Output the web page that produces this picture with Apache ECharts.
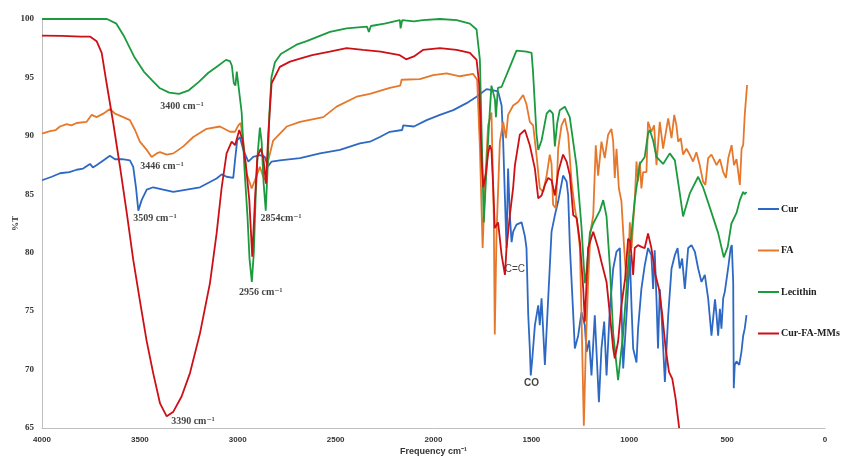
<!DOCTYPE html>
<html>
<head>
<meta charset="utf-8">
<script src="https://cdn.jsdelivr.net/npm/echarts@6/dist/echarts.min.js"></script>
<style>
html,body{margin:0;padding:0;background:#fff;}
#c{width:853px;height:457px;}
</style>
</head>
<body>
<div id="c"></div>
<script>
// ---- Data (wavenumber cm-1, %T) ----
const seriesNames = ['Cur', 'FA', 'Lecithin', 'Cur-FA-MMs'];
const xTicks = [4000, 3500, 3000, 2500, 2000, 1500, 1000, 500, 0];
const yTicks = [65, 70, 75, 80, 85, 90, 95, 100];

const curData = [[4000,86.2],[3950,86.5],[3908,86.8],[3860,86.9],[3823,87.1],[3790,87.2],[3755,87.6],[3740,87.3],[3720,87.5],[3687,87.9],[3653,88.3],[3627,88.0],[3590,88.0],[3551,87.9],[3534,87.35],[3520,85.6],[3508,83.6],[3491,84.5],[3465,85.4],[3432,85.6],[3381,85.4],[3329,85.2],[3261,85.4],[3193,85.6],[3108,86.35],[3082,86.7],[3057,86.5],[3023,86.4],[3014,87.9],[3003,89.6],[2989,89.9],[2972,88.8],[2946,87.8],[2921,88.2],[2887,88.35],[2861,88.2],[2847,87.35],[2827,87.8],[2785,87.9],[2682,88.1],[2580,88.5],[2478,88.8],[2376,89.35],[2325,89.5],[2274,89.9],[2223,90.35],[2160,90.5],[2155,90.9],[2100,90.8],[2035,91.35],[1967,91.8],[1899,92.2],[1831,92.8],[1780,93.35],[1729,94.0],[1695,93.9],[1670,93.8],[1652,92.6],[1644,89.5],[1635,84.65],[1627,80.4],[1619,87.2],[1610,83.2],[1601,80.9],[1593,81.8],[1576,82.4],[1550,82.6],[1533,81.4],[1525,80.4],[1516,74.65],[1508,71.8],[1503,69.5],[1494,71.2],[1482,73.8],[1465,75.5],[1457,73.8],[1448,76.1],[1431,70.4],[1414,76.1],[1397,81.8],[1380,83.2],[1363,84.4],[1338,86.6],[1320,86.1],[1312,84.9],[1303,80.4],[1286,74.65],[1278,71.8],[1261,72.9],[1244,74.9],[1227,73.8],[1218,71.5],[1205,72.5],[1193,69.5],[1176,74.65],[1155,67.2],[1142,71.8],[1128,74.1],[1116,69.5],[1099,75.2],[1082,78.65],[1065,80.1],[1048,80.4],[1031,70.1],[1014,74.65],[997,79.8],[988,75.2],[980,71.8],[963,70.6],[955,73.5],[938,76.9],[921,78.9],[904,80.4],[887,79.8],[878,76.9],[870,80.2],[861,76.1],[853,71.8],[844,76.9],[835,74.65],[818,68.95],[801,74.65],[784,78.65],[767,79.8],[753,80.4],[742,78.65],[730,79.5],[716,76.9],[699,80.4],[682,80.65],[665,80.1],[648,78.65],[631,77.5],[614,78.1],[597,76.1],[580,72.9],[571,72.9],[562,76.0],[554,74.65],[546,72.9],[537,75.2],[529,73.5],[520,76.1],[512,76.65],[495,78.65],[482,80.4],[476,80.65],[469,77.5],[466,68.4],[461,70.4],[452,70.7],[438,70.4],[427,71.5],[418,72.9],[410,73.5],[401,74.65]];

const faData = [[4000,90.2],[3959,90.4],[3930,90.5],[3908,90.8],[3874,91.0],[3850,90.9],[3823,91.1],[3772,91.2],[3746,91.8],[3721,91.6],[3687,91.9],[3653,92.3],[3627,91.9],[3585,91.6],[3551,91.35],[3525,90.5],[3500,89.5],[3465,88.8],[3440,88.2],[3414,88.5],[3397,88.6],[3363,88.4],[3329,88.5],[3278,89.1],[3227,89.9],[3159,90.6],[3091,90.8],[3040,90.35],[3014,90.35],[2997,90.9],[2985,91.1],[2972,89.6],[2955,86.8],[2929,85.5],[2912,86.2],[2887,87.35],[2870,86.5],[2858,86.2],[2844,87.9],[2819,89.6],[2750,90.8],[2682,91.2],[2563,91.6],[2495,92.5],[2393,93.35],[2325,93.6],[2223,94.1],[2170,94.3],[2163,94.8],[2070,94.85],[2002,95.2],[1933,95.35],[1865,95.1],[1797,95.3],[1777,94.8],[1763,89.0],[1749,80.4],[1738,85.5],[1721,90.9],[1704,92.0],[1692,83.2],[1687,73.0],[1678,81.65],[1661,89.5],[1644,91.2],[1630,89.8],[1619,91.8],[1593,92.6],[1568,92.9],[1542,93.5],[1525,92.7],[1508,91.2],[1491,90.9],[1474,88.4],[1457,85.5],[1440,85.2],[1422,86.6],[1406,88.4],[1397,87.6],[1389,84.1],[1375,83.8],[1363,88.9],[1346,90.9],[1329,91.5],[1312,90.1],[1295,86.1],[1278,83.8],[1266,82.6],[1252,80.4],[1244,74.65],[1232,65.2],[1222,71.8],[1210,77.5],[1198,81.8],[1184,83.2],[1171,89.2],[1159,86.6],[1142,89.5],[1125,88.1],[1108,90.1],[1091,90.6],[1082,89.5],[1074,86.4],[1065,88.9],[1053,85.5],[1040,84.4],[1026,80.4],[1014,77.5],[1006,78.5],[997,82.6],[988,80.4],[980,82.6],[972,84.4],[963,87.8],[955,86.1],[946,87.8],[938,85.5],[929,86.9],[912,86.9],[904,91.2],[887,90.35],[873,90.9],[861,87.5],[844,91.2],[827,88.9],[815,90.1],[801,91.5],[784,89.8],[770,91.8],[759,90.9],[750,89.5],[737,89.8],[725,88.4],[708,88.9],[691,88.4],[674,87.8],[657,88.6],[640,87.5],[623,86.1],[611,85.8],[597,88.1],[580,88.4],[571,88.1],[554,87.5],[537,88.0],[520,86.9],[506,86.4],[494,88.1],[477,89.2],[465,87.5],[452,88.0],[435,85.8],[426,88.9],[418,89.2],[410,91.8],[398,94.35]];

const lecData = [[4000,100],[3800,100],[3668,100],[3620,99.6],[3580,98.5],[3530,96.8],[3480,95.5],[3440,94.8],[3400,94.1],[3350,93.7],[3300,93.6],[3250,93.9],[3200,94.6],[3150,95.4],[3100,96.0],[3060,96.5],[3040,96.4],[3030,96.0],[3020,94.5],[3012,94.3],[3005,95.5],[2995,95.4],[2980,92],[2965,87],[2950,83],[2940,79.5],[2928,77.5],[2918,80],[2908,85],[2898,88.5],[2887,90.7],[2878,89.5],[2868,86],[2857,83.6],[2848,87],[2838,92],[2828,95],[2810,96.3],[2780,97.0],[2700,97.8],[2648,98.1],[2529,98.9],[2444,99.2],[2340,99.35],[2330,98.9],[2320,99.4],[2250,99.6],[2172,99.9],[2168,99.2],[2160,99.9],[2100,99.8],[2054,99.9],[1967,100],[1882,99.9],[1814,99.6],[1780,99.1],[1763,96.5],[1754,90.2],[1743,82.6],[1729,87.3],[1712,92.2],[1704,94.3],[1686,93.1],[1681,91.6],[1671,94.1],[1652,94.2],[1610,95.9],[1576,97.3],[1525,97.2],[1499,97.1],[1492,95.6],[1474,90.2],[1465,88.8],[1448,89.6],[1422,91.9],[1406,92.2],[1390,91.9],[1380,89.1],[1368,91.1],[1355,92.2],[1329,92.5],[1304,91.6],[1269,87.4],[1244,82.2],[1227,77.4],[1219,78.3],[1201,81.7],[1184,82.5],[1150,83.6],[1133,84.5],[1116,83.1],[1099,78.8],[1082,73.1],[1057,69.1],[1031,73.1],[1006,78.8],[988,81.7],[972,84.5],[946,87.6],[921,88.2],[904,90.2],[895,90.5],[878,89.6],[861,88.2],[827,87.6],[793,88.5],[767,87.9],[742,85.1],[725,83.1],[690,85.1],[648,86.5],[623,85.6],[589,83.9],[546,81.7],[517,79.6],[497,80.5],[478,82.5],[452,83.4],[435,84.5],[418,85.2],[410,85.0],[401,85.2]];

const mmsData = [[4000,98.57],[3900,98.55],[3800,98.5],[3755,98.5],[3721,98.1],[3695,97.1],[3670,94.5],[3636,91.1],[3602,87.4],[3567,83.4],[3534,79.4],[3500,75.9],[3466,72.5],[3432,69.7],[3397,67.1],[3363,66.0],[3329,66.4],[3287,67.7],[3244,69.7],[3193,73.1],[3142,77.4],[3108,81.65],[3082,85.6],[3057,88.5],[3031,89.5],[3014,89.2],[2992,90.5],[2975,89.6],[2958,87.4],[2941,84.5],[2926,79.65],[2912,84.5],[2900,88.2],[2882,88.9],[2870,88.2],[2856,85.9],[2844,90.2],[2827,94.5],[2785,95.9],[2733,96.35],[2682,96.6],[2620,96.9],[2530,97.2],[2444,97.5],[2360,97.35],[2270,97.2],[2172,96.9],[2140,96.55],[2100,96.8],[2054,97.35],[1967,97.5],[1882,97.35],[1814,97.1],[1780,96.5],[1767,94.5],[1754,87.9],[1746,85.6],[1732,86.8],[1721,88.5],[1712,89.2],[1704,88.8],[1695,85.6],[1687,82.1],[1670,82.6],[1652,79.8],[1635,78.1],[1627,80.4],[1610,83.2],[1593,85.6],[1584,87.5],[1559,90.1],[1533,90.5],[1508,89.2],[1482,87.2],[1465,84.65],[1448,84.9],[1431,85.8],[1414,86.4],[1397,86.2],[1380,84.9],[1363,86.9],[1338,88.4],[1320,87.8],[1303,86.6],[1286,83.2],[1269,83.0],[1252,80.9],[1235,76.9],[1227,74.1],[1210,80.4],[1184,81.8],[1159,80.4],[1142,79.2],[1116,77.5],[1099,74.7],[1082,71.8],[1074,70.95],[1057,72.4],[1040,75.5],[1021,77.8],[1006,81.2],[995,81.0],[980,78.1],[972,80.4],[955,80.65],[938,80.5],[921,80.4],[904,81.65],[887,80.4],[866,78.1],[848,76.9],[831,74.65],[814,71.8],[797,69.8],[780,69.2],[763,67.5],[745,65]];

// annotation texts placed at data coordinates
const annotations = [
  [3285, 92.55, '3400 cm\u207B\u00B9', 'serif'],
  [3387, 87.35, '3446 cm\u207B\u00B9', 'serif'],
  [3423, 82.9, '3509 cm\u207B\u00B9', 'serif'],
  [3229, 65.6, '3390 cm\u207B\u00B9', 'serif'],
  [2882, 76.6, '2956 cm\u207B\u00B9', 'serif'],
  [2779, 82.9, '2854cm\u207B\u00B9', 'serif'],
  [1584, 78.6, 'C=C', 'sans'],
  [1499, 68.8, 'CO', 'sans']
];

const colors = ['#2d69c4', '#e6782c', '#1b9a3e', '#cc1016'];
const serif = '"Liberation Serif","Times New Roman","DejaVu Serif",serif';
const sans = '"Liberation Sans","Open Sans",Arial,sans-serif';

const chart = echarts.init(document.getElementById('c'), null, {renderer: 'canvas'});

const lineSeries = [curData, faData, lecData, mmsData].map((d, i) => ({
  name: seriesNames[i],
  type: 'line',
  data: d,
  showSymbol: false,
  symbol: 'none',
  smooth: false,
  lineStyle: {width: 1.8, color: colors[i]},
  itemStyle: {color: colors[i]},
  animation: false
}));

const annoSeries = {
  name: 'annotations',
  type: 'scatter',
  data: annotations.map(a => ({
    value: [a[0], a[1]],
    text: a[2],
    label: {
      fontFamily: a[3] === 'serif' ? serif : sans,
      fontWeight: (a[3] === 'serif' || a[2] === 'CO') ? 'bold' : 'normal'
    }
  })),
  symbolSize: 0,
  silent: true,
  animation: false,
  label: {
    show: true,
    position: 'inside',
    color: '#111',
    fontSize: 10,
    formatter: p => p.data.text
  }
};

chart.setOption({
  backgroundColor: '#fff',
  animation: false,
  color: colors,
  grid: {left: 42, right: 28, top: 19, bottom: 29, containLabel: false, outerBoundsMode: 'none'},
  legend: {
    data: seriesNames,
    orient: 'vertical',
    left: 753,
    top: 199,
    itemWidth: 21,
    itemHeight: 2,
    icon: 'rect',
    itemGap: 31.5,
    textStyle: {fontFamily: serif, fontWeight: 'bold', fontSize: 10, color: '#222', padding: [0, 0, 0, -3]},
    selectedMode: false
  },
  xAxis: {
    type: 'value',
    inverse: true,
    min: 0,
    max: 4000,
    interval: 500,
    name: 'Frequency cm\u207B\u00B9',
    nameLocation: 'middle',
    nameGap: 19,
    nameMoveOverlap: false,
    nameTextStyle: {fontFamily: sans, fontWeight: 'bold', fontSize: 9, color: '#333'},
    axisLine: {show: true, onZero: false, lineStyle: {color: '#bfbfbf', width: 1}},
    axisTick: {show: false},
    splitLine: {show: false},
    axisLabel: {fontFamily: sans, fontWeight: 'bold', fontSize: 8, color: '#333', margin: 8,
      formatter: v => String(v)}
  },
  yAxis: {
    type: 'value',
    position: 'left',
    min: 65,
    max: 100,
    interval: 5,
    name: '%T',
    nameLocation: 'middle',
    nameRotate: 90,
    nameGap: 22,
    nameMoveOverlap: false,
    nameTextStyle: {fontFamily: serif, fontWeight: 'bold', fontSize: 9, color: '#333'},
    axisLine: {show: true, onZero: false, lineStyle: {color: '#bfbfbf', width: 1}},
    axisTick: {show: false},
    splitLine: {show: false},
    axisLabel: {fontFamily: serif, fontWeight: 'bold', fontSize: 9, color: '#333', margin: 8,
      formatter: v => String(v)}
  },
  series: lineSeries.concat([annoSeries])
});
</script>
</body>
</html>
